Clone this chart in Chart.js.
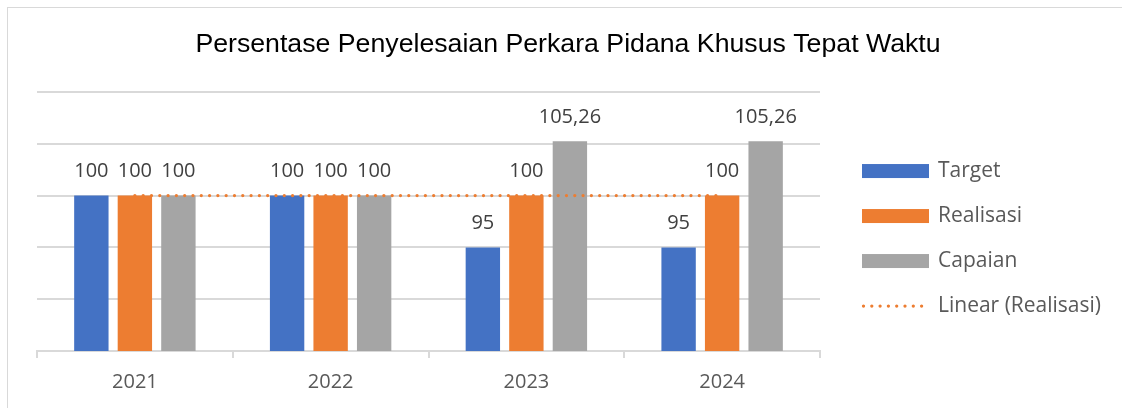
<!DOCTYPE html>
<html>
<head>
<meta charset="utf-8">
<script src="https://cdn.jsdelivr.net/npm/chart.js@4/dist/chart.umd.min.js"></script>
<style>
  html, body { margin: 0; padding: 0; background: #ffffff; overflow: hidden; }
  #chart { display: block; }
</style>
</head>
<body>
<canvas id="chart" width="1122" height="408"></canvas>
<script>
var years = ["2021", "2022", "2023", "2024"];
var targetValues = [100, 100, 95, 95];
var realisasiValues = [100, 100, 100, 100];
var capaianValues = [100, 100, 105.26, 105.26];
var trendValues = [100, 100, 100, 100];
var yTicks = [85, 90, 95, 100, 105, 110];

var BLUE = "#4472C4";
var ORANGE = "#ED7D31";
var GREY = "#A5A5A5";
var LABEL_FONT = "'Open Sans', 'Noto Sans', sans-serif";
var DOTS = [0, 8.3];

function formatValue(v) {
  return String(v).replace(".", ",");
}

// draws the value above each bar
var barLabels = {
  id: "barLabels",
  afterDatasetsDraw: function (chart) {
    var ctx = chart.ctx;
    ctx.save();
    ctx.font = "20px " + LABEL_FONT;
    ctx.fillStyle = "#404040";
    ctx.textAlign = "center";
    ctx.textBaseline = "middle";
    chart.data.datasets.forEach(function (ds, i) {
      if (ds.type === "line") return;
      var meta = chart.getDatasetMeta(i);
      meta.data.forEach(function (el, j) {
        ctx.fillText(formatValue(ds.data[j]), el.x, el.y - 24);
      });
    });
    ctx.restore();
  }
};

// legend on the right, in the room kept free by the spacer axis
var sideLegend = {
  id: "sideLegend",
  afterDraw: function (chart) {
    var ctx = chart.ctx;
    var area = chart.chartArea;
    var x = area.right + 42;
    var y = area.top + 79;
    ctx.save();
    ctx.font = "21px " + LABEL_FONT;
    ctx.textBaseline = "middle";
    ctx.textAlign = "left";
    chart.data.datasets.forEach(function (ds, i) {
      var cy = y + i * 45;
      if (ds.type === "line") {
        ctx.strokeStyle = ds.borderColor;
        ctx.lineWidth = ds.borderWidth;
        ctx.lineCap = "round";
        ctx.setLineDash(DOTS);
        ctx.beginPath();
        ctx.moveTo(x + 1.5, cy);
        ctx.lineTo(x + 67, cy);
        ctx.stroke();
        ctx.setLineDash([]);
      } else {
        ctx.fillStyle = ds.backgroundColor;
        ctx.fillRect(x, cy - 7, 67, 14);
      }
      ctx.fillStyle = "#595959";
      ctx.fillText(ds.label, x + 76, cy);
    });
    ctx.restore();
  }
};

// thin frame round the chart, cut off at the right and bottom
var frame = {
  id: "frame",
  beforeDraw: function (chart) {
    var ctx = chart.ctx;
    ctx.save();
    ctx.strokeStyle = "#d9d9d9";
    ctx.lineWidth = 1;
    ctx.strokeRect(7.5, 7.5, 1300, 600);
    ctx.restore();
  }
};

var ctx = document.getElementById("chart").getContext("2d");

var chart = new Chart(ctx, {
  type: "bar",
  data: {
    labels: years,
    datasets: [
      { label: "Target", data: targetValues, backgroundColor: BLUE, order: 1 },
      { label: "Realisasi", data: realisasiValues, backgroundColor: ORANGE, order: 1 },
      { label: "Capaian", data: capaianValues, backgroundColor: GREY, order: 1 },
      {
        type: "line",
        label: "Linear (Realisasi)",
        data: trendValues,
        borderColor: ORANGE,
        borderWidth: 3.3,
        borderDash: DOTS,
        borderCapStyle: "round",
        pointRadius: 0,
        fill: false,
        order: 0
      }
    ]
  },
  options: {
    responsive: false,
    animation: false,
    devicePixelRatio: 1,
    layout: { padding: { left: 34, right: 20, top: 10, bottom: 2 } },
    datasets: {
      bar: { barPercentage: 0.79, categoryPercentage: 0.667 }
    },
    scales: {
      x: {
        grid: {
          display: true,
          drawOnChartArea: false,
          drawTicks: true,
          tickLength: 7,
          color: "#d9d9d9",
          lineWidth: 2
        },
        border: { display: true, color: "#d9d9d9", width: 2 },
        ticks: {
          color: "#595959",
          padding: 12,
          font: { family: LABEL_FONT, size: 20 }
        }
      },
      y: {
        min: yTicks[0],
        max: yTicks[yTicks.length - 1],
        afterBuildTicks: function (scale) {
          scale.ticks = yTicks.map(function (v) { return { value: v }; });
        },
        afterFit: function (scale) { scale.width = 3; },
        grid: { color: "#d9d9d9", lineWidth: 2, drawTicks: false },
        border: { display: false },
        ticks: { display: false }
      },
      legendSpace: {
        position: "right",
        display: true,
        afterFit: function (scale) { scale.width = 282; },
        grid: { display: false, drawTicks: false },
        border: { display: false },
        ticks: { display: false }
      }
    },
    plugins: {
      title: {
        display: true,
        text: "Persentase Penyelesaian Perkara Pidana Khusus Tepat Waktu",
        color: "#000000",
        font: { family: "'Liberation Sans', Arial, sans-serif", size: 26.7, weight: "normal" },
        padding: { top: 19, bottom: 31 }
      },
      legend: { display: false },
      tooltip: { enabled: false }
    }
  },
  plugins: [frame, barLabels, sideLegend]
});
</script>
</body>
</html>
